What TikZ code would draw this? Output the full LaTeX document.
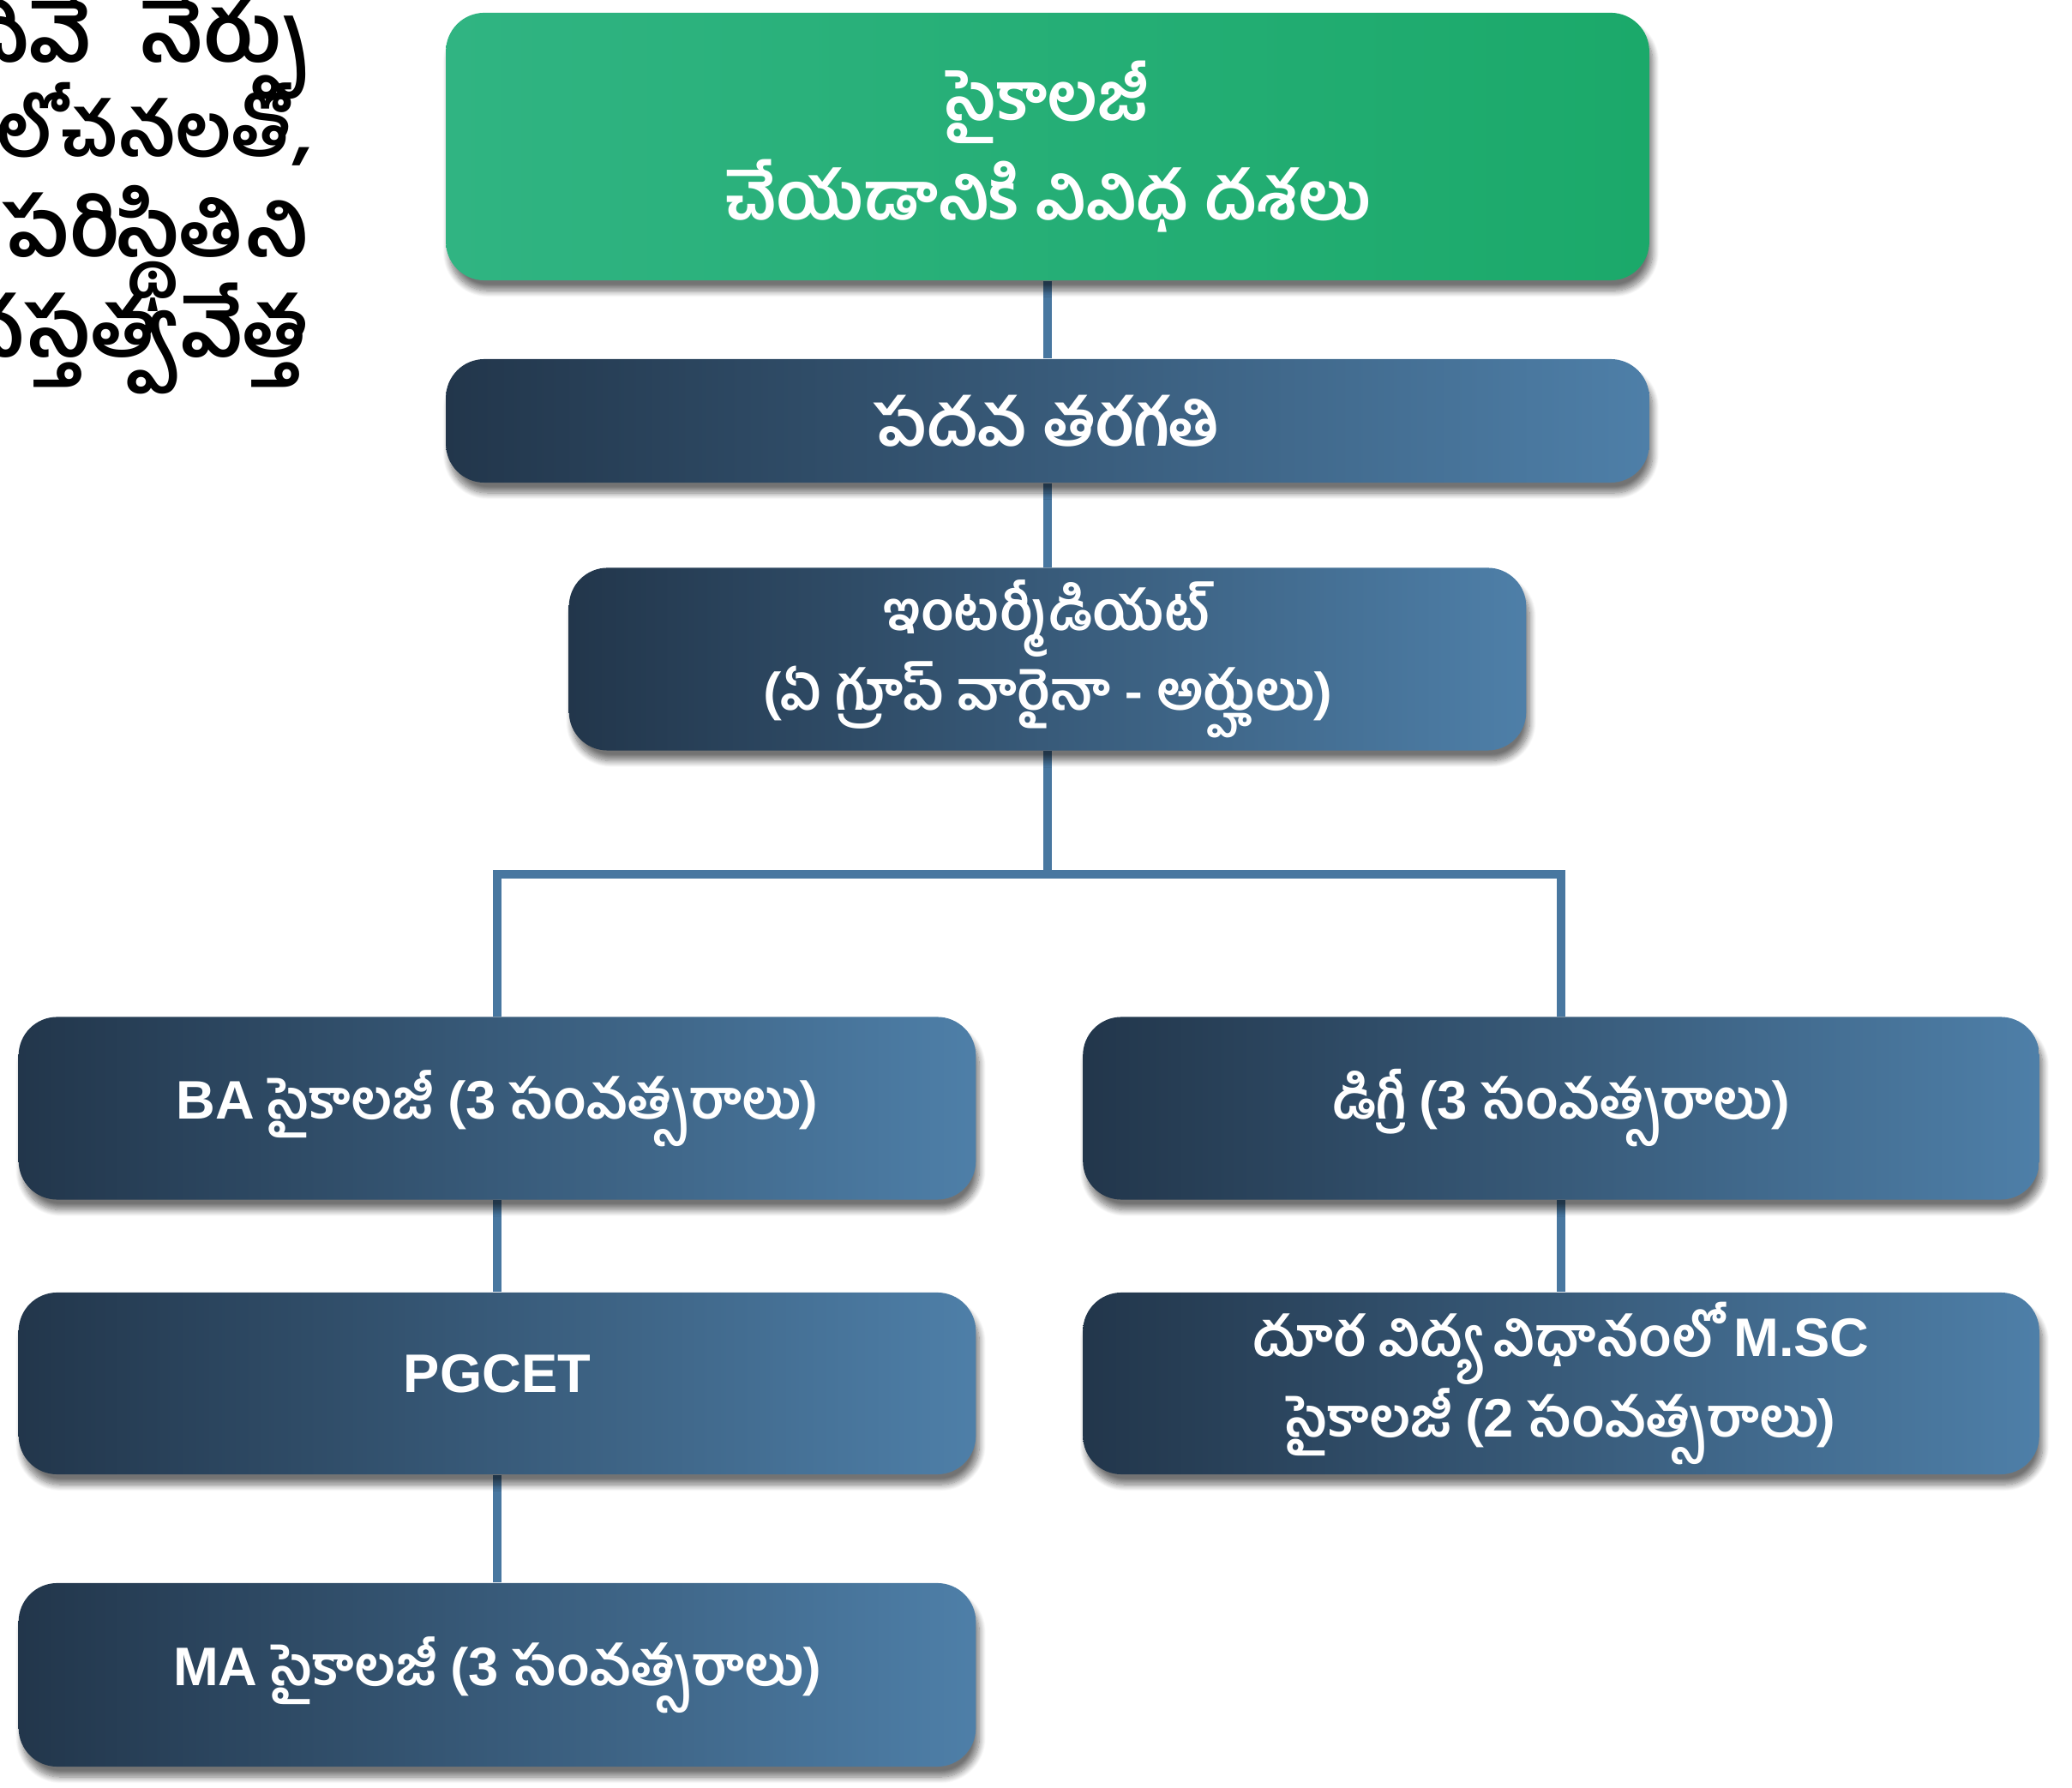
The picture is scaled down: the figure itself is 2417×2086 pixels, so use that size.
\documentclass[tikz,border=0pt]{standalone}
\usepackage{fontspec}
\setmainfont{Liberation Sans}
\newfontfamily\te[Script=Telugu]{Hind Guntur}
\newfontfamily\lat{Liberation Sans}
\usetikzlibrary{shadows.blur,backgrounds}

\definecolor{greenleft}{HTML}{30B482}
\definecolor{greenright}{HTML}{1BA96A}
\definecolor{bluedark}{HTML}{22364B}
\definecolor{bluelight}{HTML}{4E7FA8}
\definecolor{linkblue}{HTML}{4877A0}

\begin{document}
\begin{tikzpicture}[x=0.01cm,y=-0.01cm,
        stage/.style={rounded corners=0.45cm, left color=bluedark, right color=bluelight,
            text=white, align=center, inner sep=0pt,
            font=\te\bfseries\fontsize{18}{26.5}\selectfont,
            blur shadow={shadow xshift=0.04cm, shadow yshift=-0.12cm, shadow opacity=55, shadow blur steps=12}},
        head/.style={stage, left color=greenleft, right color=greenright,
            font=\te\bfseries\fontsize{22}{33}\selectfont},
        para/.style={anchor=base east, inner sep=0pt, font=\te\bfseries\fontsize{27}{30}\selectfont},
        link/.style={draw=linkblue, line width=0.1cm}]
        \useasboundingbox (0,0) rectangle (2417,2086);

        % cut-off text on the left
        \begin{scope}
            \clip (0,0) rectangle (2417,2086);
            \node[para] (p1) at (360,73) {చదివే\hspace{0.6em}నేర్పు};
            \node[para, font=\te\bfseries\fontsize{24.5}{30}\selectfont] (p2) at (365,183) {లోచనలతో,};
            \node[para] (p3) at (360,300) {వల\hspace{0.6em}పరిస్థితిని};
            \node[para] (p4) at (360,417) {మనస్తత్వవేత్త};
        \end{scope}

        \node[head, minimum width=14.03cm, minimum height=3.12cm] (title) at (1222,171) {సైకాలజీ\\చేయడానికి వివిధ దశలు};
        \node[stage, minimum width=14.03cm, minimum height=1.44cm, font=\te\bfseries\fontsize{21.5}{26}\selectfont] (tenth) at (1222,491) {పదవ తరగతి};
        \node[stage, minimum width=11.16cm, minimum height=2.13cm] (inter) at (1222,769) {ఇంటర్మీడియట్\\(ఏ గ్రూప్ వారైనా - అర్హులు)};

        \node[stage, minimum width=11.16cm, minimum height=2.13cm] (ba) at (580,1293) {{\lat BA} సైకాలజీ ({\lat 3} సంవత్సరాలు)};
        \node[stage, minimum width=11.16cm, minimum height=2.12cm, text depth=0.24cm] (pgcet) at (580,1614) {\lat PGCET};
        \node[stage, minimum width=11.16cm, minimum height=2.14cm] (ma) at (580,1954) {{\lat MA} సైకాలజీ ({\lat 3} సంవత్సరాలు)};

        \node[stage, minimum width=11.15cm, minimum height=2.13cm] (deg) at (1821,1293) {డిగ్రీ ({\lat 3} సంవత్సరాలు)};
        \node[stage, minimum width=11.15cm, minimum height=2.12cm] (msc) at (1821,1614) {దూర విద్య విధానంలో {\lat M.SC}\\సైకాలజీ ({\lat 2} సంవత్సరాలు)};

        \begin{scope}[on background layer]
            \coordinate (split) at (1222,1020);
            \draw[link] (title) -- (tenth) -- (inter) -- (split);
            \draw[link] (ba.north) |- (split) -| (deg.north);
            \draw[link] (ba) -- (pgcet) -- (ma);
            \draw[link] (deg) -- (msc);
        \end{scope}
    \end{tikzpicture}
\end{document}
